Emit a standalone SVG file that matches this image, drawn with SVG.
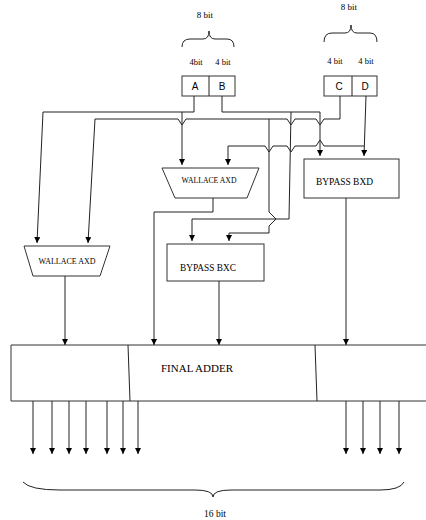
<svg xmlns="http://www.w3.org/2000/svg" width="426" height="520" viewBox="0 0 426 520">
<defs>
<marker id="arr" markerUnits="userSpaceOnUse" markerWidth="6" markerHeight="6" refX="6" refY="3" orient="auto">
<path d="M0,0 L6,3 L0,6 z" fill="#000"/>
</marker>
<style>
.w{fill:none;stroke:#222;stroke-width:1}
.a{fill:none;stroke:#222;stroke-width:1;marker-end:url(#arr)}
.b{fill:#fff;stroke:#333;stroke-width:1}
.t{font-family:"Liberation Serif",serif;fill:#000}
.s{font-family:"Liberation Sans",sans-serif;fill:#000;font-size:10px;text-anchor:middle}
</style>
</defs>
<rect width="426" height="520" fill="#fff"/>

<g id="braces" class="w">
<path d="M182,47 Q182,39 190,39 L203,39 Q209,39 209,31 Q209,39 215,39 L227,39 Q234,39 234,47"/>
<path d="M324,42 Q324,33 332,33 L345,33 Q351,33 351,25 Q351,33 357,33 L370,33 Q377,33 377,42"/>
<path d="M23,482 Q30,490 60,490 L195,490 Q213,490 213,497 Q213,490 231,490 L380,490 Q400,490 404,482"/>
</g>
<g id="labels" class="t">
<text x="205" y="18" font-size="9" text-anchor="middle">8 bit</text>
<text x="349" y="10" font-size="9" text-anchor="middle">8 bit</text>
<text x="196" y="65" font-size="8.5" text-anchor="middle">4bit</text>
<text x="223" y="65" font-size="8.5" text-anchor="middle">4 bit</text>
<text x="335" y="64" font-size="8.5" text-anchor="middle">4 bit</text>
<text x="366" y="64" font-size="8.5" text-anchor="middle">4 bit</text>
<text x="215" y="517" font-size="9.5" text-anchor="middle">16 bit</text>
</g>

<g id="inputAB">
<rect class="b" x="182" y="76" width="53" height="20"/>
<line class="w" x1="209" y1="76" x2="209" y2="96"/>
<text class="s" x="195" y="90">A</text>
<text class="s" x="222" y="90">B</text>
</g>
<g id="inputCD">
<rect class="b" x="324" y="76" width="53" height="20"/>
<line class="w" x1="352" y1="76" x2="352" y2="96"/>
<text class="s" x="339" y="90">C</text>
<text class="s" x="365" y="90">D</text>
</g>

<g id="wallace-mid">
<path class="b" d="M162,168 L259,168 L247,198 L175,198 z"/>
<text class="t" x="209" y="183" font-size="8" text-anchor="middle" textLength="55" lengthAdjust="spacingAndGlyphs">WALLACE AXD</text>
</g>
<g id="wallace-left">
<path class="b" d="M24,246 L110,246 L100,276 L33,276 z"/>
<text class="t" x="67" y="264" font-size="8" text-anchor="middle" textLength="57" lengthAdjust="spacingAndGlyphs">WALLACE AXD</text>
</g>
<g id="bypass-bxd">
<rect class="b" x="304" y="159" width="95" height="39"/>
<text class="t" x="316" y="185" font-size="10" textLength="57" lengthAdjust="spacingAndGlyphs">BYPASS BXD</text>
</g>
<g id="bypass-bxc">
<rect class="b" x="167" y="244" width="97" height="37"/>
<text class="t" x="180" y="271" font-size="10" textLength="56" lengthAdjust="spacingAndGlyphs">BYPASS BXC</text>
</g>
<g id="final-adder">
<path class="b" d="M430,345 L11,345 L11,401 L430,401"/>
<line class="w" x1="128" y1="345" x2="130" y2="401"/>
<line class="w" x1="315" y1="345" x2="317" y2="401"/>
<text class="t" x="161" y="372" font-size="11" textLength="72" lengthAdjust="spacingAndGlyphs">FINAL ADDER</text>
</g>

<g id="connectors">
<path class="w" d="M194,96 L194,112 L43,112"/>
<path class="a" d="M43,112 L37,243"/>
<path class="a" d="M182,112 L182,165"/>
<path class="a" d="M222,96 L222,112 L320,112 L320,156"/>
<path class="a" d="M291,112 L289,219 L192,219 L192,241"/>
<path class="w" d="M340,96 L340,119 L324,119 L320,125 L316,119 L295,119 L291,125 L287,119 L186,119 L182,125 L178,119 L95,119"/>
<path class="a" d="M95,119 L88,243"/>
<path class="a" d="M269,119 L269,212 L276,219 L269,226 L269,233 L229,233 L229,241"/>
<path class="a" d="M366,96 L364,156"/>
<path class="w" d="M364,146 L324,146 L320,140 L316,146 L295,146 L291,152 L287,146 L273,146 L269,152 L265,146 L228,146"/>
<path class="a" d="M228,146 L228,165"/>
<path class="a" d="M213,198 L213,212 L154,212 L154,345"/>
<path class="a" d="M65,276 L65,345"/>
<path class="a" d="M219,281 L219,345"/>
<path class="a" d="M346,198 L346,345"/>
<path class="a" d="M33,401 L33,454"/>
<path class="a" d="M52,401 L52,454"/>
<path class="a" d="M69,401 L69,454"/>
<path class="a" d="M86,401 L86,454"/>
<path class="a" d="M107,401 L107,454"/>
<path class="a" d="M123,401 L123,454"/>
<path class="a" d="M138,401 L138,454"/>
<path class="a" d="M346,401 L346,454"/>
<path class="a" d="M363,401 L363,454"/>
<path class="a" d="M380,401 L380,454"/>
<path class="a" d="M399,401 L399,454"/>
</g>
</svg>
